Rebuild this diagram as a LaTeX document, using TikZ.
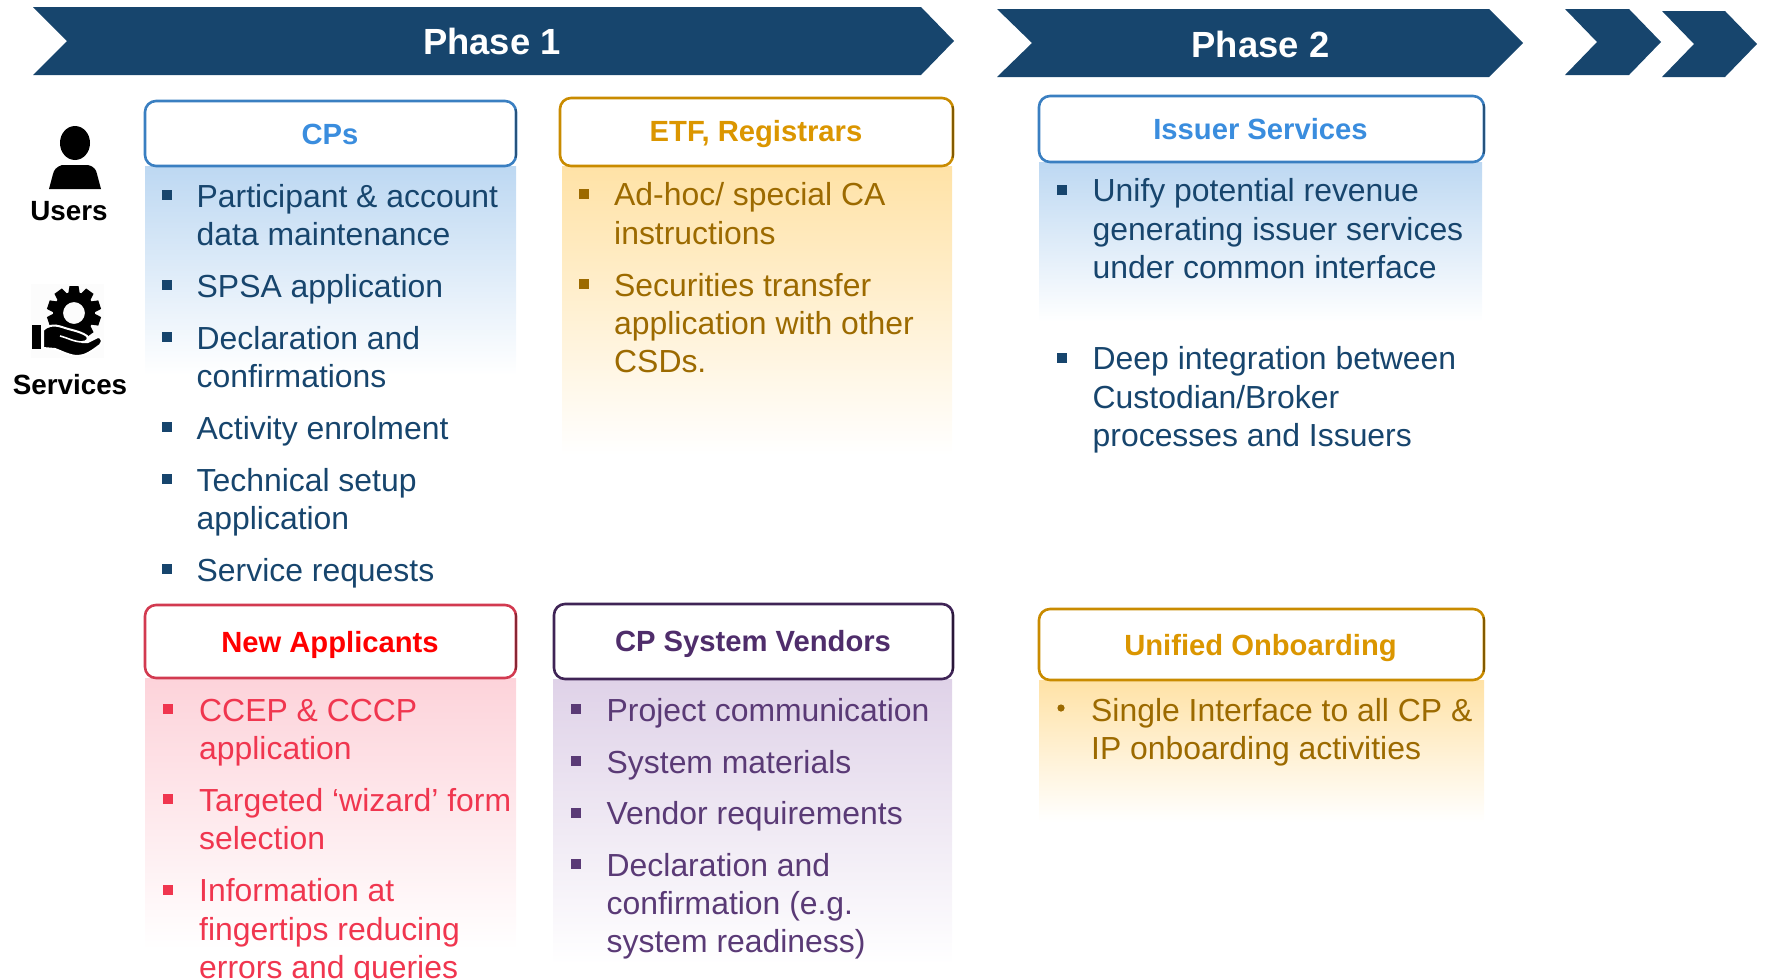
\documentclass[tikz,border=0pt]{standalone}
\usepackage{fontspec}
\setmainfont{Liberation Sans}
\definecolor{navy}{HTML}{17456D}
\definecolor{cpblue}{HTML}{3A8DDE}
\definecolor{cpline}{HTML}{3A7FC1}
\definecolor{cpfill}{HTML}{BDD8F2}
\definecolor{goldt}{HTML}{DB9600}
\definecolor{goldb}{HTML}{9C6A00}
\definecolor{goldl}{HTML}{C98B00}
\definecolor{goldf}{HTML}{FFE2A6}
\definecolor{redb}{HTML}{F0364F}
\definecolor{redl}{HTML}{D23A50}
\definecolor{redf}{HTML}{FDD3DA}
\definecolor{purt}{HTML}{4F2D6B}
\definecolor{purb}{HTML}{5A3A76}
\definecolor{purf}{HTML}{DFD2E8}
\tikzset{
  chev/.style={fill=navy,draw=none},
  phaselabel/.style={text=white,font=\fontsize{36.4}{40}\selectfont\bfseries,inner sep=0pt},
  head/.style={draw=#1,line width=2.6pt,fill=white,rounded corners=11pt},
  headtxt/.style={font=\fontsize{29.2}{33}\selectfont\bfseries,inner sep=0pt},
  bodytxt/.style={font=\fontsize{31.9}{38.3}\selectfont,inner sep=0pt,anchor=north west,align=left},
  sidelabel/.style={font=\fontsize{27.8}{31}\selectfont\bfseries,inner sep=0pt},
  sq/.style={fill=#1,inner sep=0pt,minimum size=10pt,draw=none,shape=rectangle},
}
% name, bullet x-centre, text x, first baseline, colour, text
\newcommand{\bulletitem}[6]{%
  \node[sq=#5] (#1b) at (#2,#4-11) {};
  \node[bodytxt,text=#5] (#1) at (#3,#4-29) {\rule{0pt}{30pt}#6};
}
% x1,y1,x2,y2,colour: header box with a darker right edge
\newcommand{\headbox}[5]{%
  \draw[head=#5] (#1,#2) rectangle (#3,#4);
  \draw[#5!65!black,line width=2.2pt,line cap=round] (#3,#2+9) -- (#3,#4-9);
}
\begin{document}
\begin{tikzpicture}[x=1pt,y=-1pt]
\useasboundingbox (0,0) rectangle (1765,980);
% chevrons
\fill[chev] (33,7) -- (921,7) -- (954,41) -- (921,75) -- (33,75) -- (67,41) -- cycle;
\fill[chev] (997,9) -- (1489,9) -- (1523,43) -- (1489,77) -- (997,77) -- (1032,43) -- cycle;
\fill[chev] (1565,9) -- (1629,9) -- (1661,42) -- (1629,75) -- (1565,75) -- (1597,42) -- cycle;
\fill[chev] (1662,11) -- (1725,11) -- (1757,44) -- (1725,77) -- (1662,77) -- (1694,44) -- cycle;
\node[phaselabel] (p1) at (492,41.5) {Phase 1};
\node[phaselabel] (p2) at (1260.5,44) {Phase 2};
% gradient panels
\shade[top color=cpfill,bottom color=white] (145,166) rectangle (516,375);
\shade[top color=goldf,bottom color=white] (562,166) rectangle (952,455);
\shade[top color=cpfill,bottom color=white] (1039,162) rectangle (1482,322);
\shade[top color=redf,bottom color=white] (145,678) rectangle (516,950);
\shade[top color=purf,bottom color=white] (553,679) rectangle (952,965);
\shade[top color=goldf,bottom color=white] (1039,680) rectangle (1484,822);
% header boxes
\headbox{145}{101}{516}{166}{cpline}
\headbox{560}{98}{953}{166}{goldl}
\headbox{1039}{96}{1484}{162}{cpline}
\headbox{145}{605}{516}{678}{redl}
\headbox{554}{604}{953}{679}{purt!80!black}
\headbox{1039}{609}{1484}{680}{goldl}
\node[headtxt,text=cpblue] (h1) at (330,134) {CPs};
\node[headtxt,text=goldt] (h2) at (756,134.5) {ETF, Registrars};
\node[headtxt,text=cpblue] (h3) at (1260.5,129) {Issuer Services};
\node[headtxt,text=red] (h4) at (330,645) {New Applicants};
\node[headtxt,text=purt] (h5) at (753,644) {CP System Vendors};
\node[headtxt,text=goldt] (h6) at (1260.5,648) {Unified Onboarding};
% CPs
\bulletitem{a1}{167}{196.5}{206}{navy}{Participant \& account\\data maintenance}
\bulletitem{a2}{167}{196.5}{296}{navy}{SPSA application}
\bulletitem{a3}{167}{196.5}{348}{navy}{Declaration and\\confirmations}
\bulletitem{a4}{167}{196.5}{438}{navy}{Activity enrolment}
\bulletitem{a5}{167}{196.5}{490}{navy}{Technical setup\\application}
\bulletitem{a6}{167}{196.5}{580}{navy}{Service requests}
% ETF
\bulletitem{b1}{584}{614}{204.5}{goldb}{Ad-hoc/ special CA\\instructions}
\bulletitem{b2}{584}{614}{295}{goldb}{Securities transfer\\application with other\\CSDs.}
% Issuer
\bulletitem{c1}{1062}{1092.5}{200.5}{navy}{Unify potential revenue\\generating issuer services\\under common interface}
\bulletitem{c2}{1062}{1092.5}{368.5}{navy}{Deep integration between\\Custodian/Broker\\processes and Issuers}
% New applicants
\bulletitem{d1}{168}{199}{720}{redb}{CCEP \& CCCP\\application}
\bulletitem{d2}{168}{199}{810}{redb}{Targeted ‘wizard’ form\\selection}
\bulletitem{d3}{168}{199}{900.5}{redb}{Information at\\fingertips reducing\\errors and queries}
% Vendors
\bulletitem{e1}{576}{606.5}{720}{purb}{Project communication}
\bulletitem{e2}{576}{606.5}{772}{purb}{System materials}
\bulletitem{e3}{576}{606.5}{823.5}{purb}{Vendor requirements}
\bulletitem{e4}{576}{606.5}{875}{purb}{Declaration and\\confirmation (e.g.\\system readiness)}
% Unified
\fill[goldb] (1061,708) circle (3.6pt);
\node[bodytxt,text=goldb] (f1) at (1091,691) {\rule{0pt}{30pt}Single Interface to all CP \&\\IP onboarding activities};
% user icon
\fill[black] (75,143) ellipse (15pt and 17pt);
\fill[black] (62,165) -- (88,165) .. controls (95,167) and (96,170) .. (97,174) -- (101,189) -- (49,189) -- (53,174) .. controls (54,170) and (56,167) .. (62,165) -- cycle;
\node[sidelabel] (users) at (69,211) {Users};
% services icon
\fill[black!1] (31,284) rectangle (104,358);
\begin{scope}[shift={(74,313)}]
  \foreach \a in {0,36,...,324}{
    \fill[black,rotate=\a] (-4.5,-27) -- (4.5,-27) -- (6,-18) -- (-6,-18) -- cycle;
  }
  \fill[black,even odd rule] (0,0) circle (21pt) (0,0) circle (11pt);
\end{scope}
\fill[black] (32,325) rectangle (41,349);
\draw[white,line width=2pt,fill=black,line join=round] (43,330) .. controls (47,326) and (53,324) .. (62,327) .. controls (70,330) and (80,331) .. (87,336) .. controls (89,339) and (87,342) .. (82,342) -- (88,342) -- (98,337) .. controls (102,337) and (103,342) .. (100,345) .. controls (92,351) and (85,356) .. (78,356) .. controls (70,356) and (63,352) .. (55,349) -- (43,348) -- cycle;
\draw[white,line width=1.6pt] (60,336) .. controls (68,338) and (74,342) .. (83,342);
\node[sidelabel] (services) at (70,385) {Services};
\end{tikzpicture}
\end{document}
